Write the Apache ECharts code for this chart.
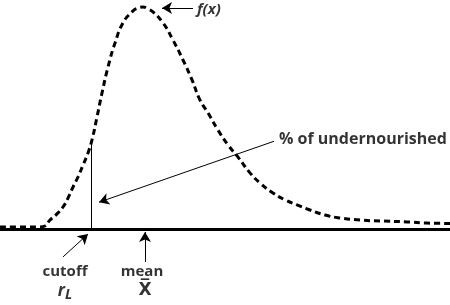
<!DOCTYPE html>
<html><head><meta charset="utf-8">
<script src="https://cdn.jsdelivr.net/npm/echarts@6/dist/echarts.min.js"></script>
<style>html,body{margin:0;padding:0;background:#fff}#c{width:450px;height:305px}</style>
</head><body><div id="c"></div>
<script>
// income values (x) and density f(x)
const incomes = [0,20,40,45,50,57,63,68,73,78,83,88,92,97,102,108,115,123,132,138,143,148,153,163,173,183,192,200,208,218,228,238,250,260,273,285,297,310,325,340,360,380,407,427,450];
const density = [0.009,0.009,0.009,0.013,0.039,0.066,0.096,0.135,0.183,0.227,0.279,0.332,0.389,0.489,0.594,0.707,0.812,0.900,0.948,0.965,0.969,0.961,0.948,0.900,0.825,0.738,0.651,0.563,0.507,0.432,0.367,0.314,0.245,0.201,0.157,0.127,0.105,0.083,0.061,0.048,0.039,0.035,0.031,0.026,0.024];
const cutoff = 91;
const cutoffDensity = 0.376;
// annotation anchors in data units
const fxArrow = [[193,0.965],[162,0.965]];
const undArrow = [[274,0.383],[99,0.117]];
const cutArrow = [[63,-0.122],[88,-0.022]];
const meanArrow = [[145,-0.144],[145,-0.013]];
const labels = ['f(x)','% of undernourished','cutoff','mean','rL','Xbar'];
const labelPos = [[197,0.956],[279,0.389],[65,-0.188],[142,-0.188],[65,-0.271],[145,-0.271]];

const font = 'Open Sans';
const chart = echarts.init(document.getElementById('c'), null, {renderer:'canvas'});
const arrowEnd = (pts) => [{coord:pts[0],symbol:'none'},{coord:pts[1],symbol:'arrow',symbolSize:[9,10]}];

const labelData = labels.map((t,i)=>{
  const d = {value:labelPos[i], name:t};
  if (t==='f(x)' || t==='% of undernourished') d.label = {position:'right',distance:0};
  return d;
});
chart.setOption({
  animation:false,
  grid:{left:0,right:0,top:0,bottom:0},
  xAxis:{type:'value',min:0,max:450,
    axisLine:{onZero:true,lineStyle:{color:'#000',width:3}},
    axisTick:{show:false},axisLabel:{show:false},splitLine:{show:false}},
  yAxis:{type:'value',min:-0.332,max:1.0,show:false,splitLine:{show:false}},
  series:[
    {type:'line',data:incomes.map((x,i)=>[x,density[i]]),smooth:0.5,showSymbol:false,clip:false,
     lineStyle:{color:'#000',width:3,type:[6,4]},
     markLine:{silent:true,symbol:['none','none'],label:{show:false},
       lineStyle:{color:'#000',width:1,type:'solid'},
       data:[
         [{coord:[cutoff,0]},{coord:[cutoff,cutoffDensity]}],
         arrowEnd(fxArrow), arrowEnd(undArrow), arrowEnd(cutArrow), arrowEnd(meanArrow)
       ]}
    },
    {type:'scatter',symbolSize:0,clip:false,silent:true,data:labelData,
     label:{show:true,color:'#000',fontFamily:font,fontWeight:'bold',fontSize:15,
       formatter:(p)=>{
         if(p.name==='f(x)') return '{it|f(x)}';
         if(p.name==='% of undernourished') return '{big|% of undernourished}';
         if(p.name==='rL') return '{r|r}{sub|L}';
         if(p.name==='Xbar') return '{b|X\u0305}';
         return p.name;
       },
       rich:{
         big:{fontWeight:'bold',fontFamily:font,fontSize:16,color:'#000'},
         it:{fontStyle:'italic',fontWeight:'bold',fontFamily:font,fontSize:15,color:'#000'},
         r:{fontStyle:'italic',fontWeight:'bold',fontFamily:font,fontSize:17,color:'#000'},
         sub:{fontStyle:'italic',fontWeight:'bold',fontFamily:font,fontSize:14,color:'#000',verticalAlign:'bottom',padding:[7,0,0,0]},
         b:{fontWeight:'bold',fontFamily:'DejaVu Sans',fontSize:17,color:'#000'}
       },
       position:'inside'
     }
    }
  ]
});
</script></body></html>
